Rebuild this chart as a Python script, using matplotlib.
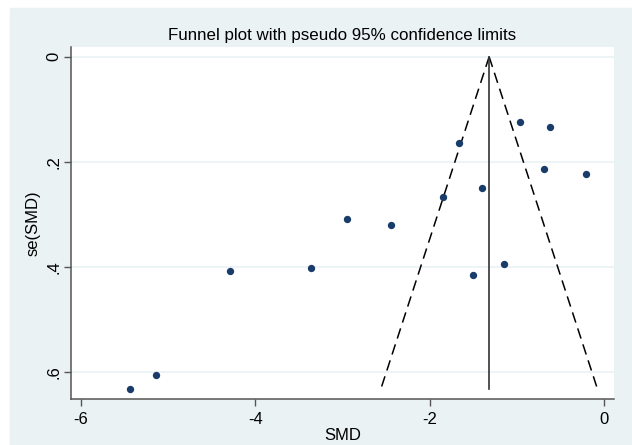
import matplotlib.pyplot as plt
import numpy as np

plt.rcParams['font.family'] = ['Liberation Sans', 'DejaVu Sans']

# study effects and their standard errors
smd = [-5.43, -5.13, -4.29, -3.36, -2.95, -2.44, -1.85, -1.67, -1.40,
       -1.50, -1.15, -0.97, -0.62, -0.69, -0.21]
se_smd = [0.632, 0.606, 0.408, 0.403, 0.310, 0.321, 0.267, 0.164, 0.250,
          0.415, 0.394, 0.125, 0.134, 0.214, 0.223]

pooled = -1.32
se_max = 0.632
xticks = [-6, -4, -2, 0]
yticks = [0, 0.2, 0.4, 0.6]
ytick_labels = ['0', '.2', '.4', '.6']

bg = '#eaf2f3'
fig = plt.figure(figsize=(6.32, 4.45), dpi=100)
fig.patch.set_facecolor('white')
# shaded graph region inside a thin white border
fig.patches.append(plt.Rectangle((10 / 632, 0), 1, 1 - 8 / 445,
                                 transform=fig.transFigure, color=bg,
                                 zorder=-10))

ax = fig.add_axes([71 / 632, 1 - 399 / 445, 543 / 632, 351.7 / 445])
ax.set_facecolor('white')

# pseudo 95% confidence limits
se_line = np.array([0, se_max])
ax.plot(pooled - 1.96 * se_line, se_line, color='black', lw=1.1,
        dashes=(7, 4))
ax.plot(pooled + 1.96 * se_line, se_line, color='black', lw=1.1,
        dashes=(7, 4))
ax.plot([pooled, pooled], se_line, color='#333333', lw=1.2)

ax.scatter(smd, se_smd, s=28, color='#1a3c6b', zorder=3, linewidths=0)

ax.set_xlim(-6.109, 0.11)
ax.set_ylim(0.652, -0.018)
ax.set_xticks(xticks)
ax.set_xticklabels([str(t) for t in xticks])
ax.set_yticks(yticks)
ax.set_yticklabels(ytick_labels, rotation=90, va='center')
ax.grid(axis='y', color=bg, lw=1.2)
ax.set_axisbelow(True)

for side in ['top', 'right']:
    ax.spines[side].set_visible(False)
for side in ['left', 'bottom']:
    ax.spines[side].set_color('#555555')
    ax.spines[side].set_linewidth(1.1)
ax.tick_params(length=5, width=1, color='#555555', labelsize=12, pad=4)
ax.tick_params(axis='y', pad=2)

ax.set_xlabel('SMD', fontsize=12, labelpad=1)
ax.set_ylabel('se(SMD)', fontsize=12, labelpad=4)
ax.set_title('Funnel plot with pseudo 95% confidence limits', fontsize=12.2,
             pad=5)

fig.savefig('out.png', dpi=100, facecolor=fig.get_facecolor())
